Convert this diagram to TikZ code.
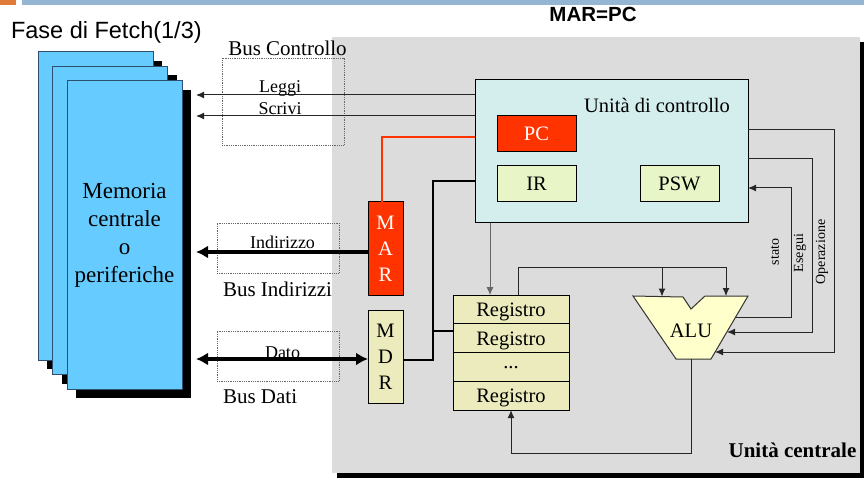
\documentclass[tikz,border=0pt]{standalone}
\usepackage{fontspec}
\setmainfont{Liberation Serif}
\newfontfamily\arialfont{Liberation Sans}
\usetikzlibrary{arrows.meta,positioning}

\definecolor{topbar}{HTML}{94B6D2}
\definecolor{toporange}{HTML}{E07B39}
\definecolor{cpugray}{HTML}{DCDCDC}
\definecolor{memblue}{HTML}{66CCFF}
\definecolor{memline}{HTML}{2F4F6F}
\definecolor{cufill}{HTML}{D4EDED}
\definecolor{pcred}{HTML}{FF3300}
\definecolor{irfill}{HTML}{E8F5C6}
\definecolor{regfill}{HTML}{EBEBBD}
\definecolor{alufill}{HTML}{FFFFCC}

\begin{document}
\begin{tikzpicture}[x=1pt,y=-1pt,line width=1pt,
    every node/.style={inner sep=0pt,outer sep=0pt},
    lbl/.style={font=\fontsize{20.5}{24}\selectfont},
    sigtext/.style={font=\fontsize{18}{20}\selectfont,anchor=base},
    rottext/.style={font=\fontsize{14}{16}\selectfont,rotate=90},
    membox/.style={draw=memline,fill=memblue,minimum width=115pt,minimum height=308pt},
    busbox/.style={draw=black!60,densely dotted,line width=0.8pt},
    unit/.style={draw,lbl,text depth=0pt,minimum width=79pt,minimum height=36pt},
    regbox/.style={draw,fill=regfill,minimum width=35pt,minimum height=93pt,
        align=center,font=\fontsize{20.5}{26}\selectfont},
    reg/.style={draw,fill=regfill,lbl,text depth=0pt,minimum width=116pt,minimum height=28.75pt},
    sig/.style={draw=black!85,-{Latex[length=8pt,width=7pt]}},
    bus/.style={line width=4pt,-{Latex[length=12pt,width=13pt]}},
    busboth/.style={line width=4pt,{Latex[length=12pt,width=13pt]}-{Latex[length=12pt,width=13pt]}}]
  \useasboundingbox (0,0) rectangle (864,478);

  % title bar
  \fill[toporange] (0,0) rectangle (16,5);
  \fill[topbar] (22,0) rectangle (864,5);
  \node[anchor=base west,font=\arialfont\fontsize{23.5}{27}\selectfont] (title) at (11,39) {Fase di Fetch(1/3)};
  \node[anchor=base,font=\arialfont\bfseries\fontsize{20.5}{24}\selectfont] (step1) at (593,22) {MAR=PC};

  % unita' centrale
  \fill (337,42) rectangle (864,478);
  \node[fill=cpugray,minimum width=528pt,minimum height=436pt] (cpu) at (596,255) {};
  \node[lbl,font=\bfseries\fontsize{21}{24}\selectfont,anchor=base] (cpulbl) at (792.5,457) {Unità centrale};

  % memoria
  \foreach \d in {0,14.5} {
    \fill (47+\d,61+\d) rectangle (162+\d,369+\d);
    \node[membox] at (95.5+\d,206+\d) {};
  }
  \fill (76,90) rectangle (191,398);
  \node[membox,align=center,font=\fontsize{23}{28}\selectfont] (mem) at (124.5,235) {Memoria\\centrale\\o\\periferiche};

  % bus
  \node[busbox,minimum width=122pt,minimum height=87pt] (bcbox) at (283,101.5) {};
  \node[busbox,minimum width=122pt,minimum height=50pt] (bibox) at (278,248) {};
  \node[busbox,minimum width=122pt,minimum height=50pt] (bdbox) at (278,356) {};
  \node[lbl,font=\fontsize{21}{24}\selectfont,anchor=base] (bclbl) at (287.5,56) {Bus Controllo};
  \node[lbl,font=\fontsize{21}{24}\selectfont,anchor=base west] (bilbl) at (223,296) {Bus Indirizzi};
  \node[lbl,font=\fontsize{21}{24}\selectfont,anchor=base west] (bdlbl) at (223,403) {Bus Dati};

  % unita' di controllo
  \node[draw,fill=cufill,minimum width=273pt,minimum height=143pt] (cu) at (611.5,151.5) {};
  \node[lbl,anchor=base] (culbl) at (657,113) {Unità di controllo};
  \node[unit,fill=pcred,text=white] (pc) at (536.5,134) {PC};
  \node[unit,fill=irfill] (ir) at (536.5,184) {IR};
  \node[unit,fill=irfill] (psw) at (679.5,184) {PSW};

  % MAR e MDR
  \node[regbox,fill=pcred,text=white] (mar) at (385.5,248.5) {M\\A\\R};
  \node[regbox] (mdr) at (385.5,356.5) {M\\D\\R};

  % registri
  \node[reg] (r1) at (511,309.5) {Registro};
  \node[reg,below=0pt of r1] (r2) {Registro};
  \node[reg,below=0pt of r2] (r3) {...};
  \node[reg,below=0pt of r3] (r4) {Registro};

  % ALU
  \coordinate (alu-tl) at (633,296);
  \coordinate (alu-tr) at (748,296);
  \coordinate (alu-br) at (711,359);
  \coordinate (alu-bl) at (676,359);
  \filldraw[fill=alufill,draw=black!80] (alu-tl) -- (683,297) -- (691,309) -- (705,296)
      -- (alu-tr) -- (alu-br) -- (alu-bl) -- cycle;
  \node[lbl] (alu) at (691,331) {ALU};
  \coordinate (alu-a) at (662,296.5);
  \coordinate (alu-b) at (726,296);
  \coordinate (alu-st) at (736,317);
  \coordinate (alu-ex) at (727,332);
  \coordinate (alu-op) at (715,352);
  \coordinate (alu-out) at (691,359);

  % bus controllo
  \coordinate (rdin) at (196,95);
  \coordinate (wrin) at (196,116);
  \draw[sig] (cu.west |- rdin) -- (rdin);
  \draw[sig] (cu.west |- wrin) -- (wrin);
  \node[sigtext] (rd) at (280,93) {Leggi};
  \node[sigtext] (wr) at (280,115) {Scrivi};

  % bus indirizzi e bus dati
  \draw[pcred,line width=1.2pt] ([yshift=-3pt]cu.west |- pc) -| ([xshift=-3.5pt]mar.north);
  \coordinate (adin) at (196,252);
  \coordinate (dtin) at (196,359);
  \draw[bus] (mar.west |- adin) -- (adin);
  \draw[busboth] (dtin) -- (mdr.west |- dtin);
  \node[sigtext] (ad) at (282.5,248) {Indirizzo};
  \node[sigtext] (dt) at (282.5,358) {Dato};

  % bus interno
  \coordinate (jn) at (433,331);
  \draw[line width=2pt] ([yshift=3pt]cu.west |- ir) -| (jn) |- ([yshift=-3.5pt]mdr.east);
  \draw[line width=2pt] (jn) -- (jn -| r1.west);
  \draw[sig,draw=black!60] ([xshift=15pt]cu.south west) -- ([xshift=15pt]cu.south west |- r1.north);

  % registri -> ALU -> registri
  \coordinate (rga) at (518,267);
  \draw[sig] (rga |- r1.north) -- (rga) -| (alu-b);
  \draw[sig] (alu-a |- rga) -- (alu-a);
  \coordinate (ret) at (691,453);
  \draw[sig] (alu-out) -- (ret) -| (r4.south);

  % segnali di controllo
  \coordinate (op) at (834,130);
  \coordinate (ex) at (812,159);
  \coordinate (st) at (791,188);
  \draw[sig] (cu.east |- op) -- (op) |- (alu-op);
  \draw[sig] (cu.east |- ex) -- (ex) |- (alu-ex);
  \draw[sig] (alu-st) -| (st) -- (cu.east |- st);
  \node[rottext] (stlbl) at (775,252) {stato};
  \node[rottext] (exlbl) at (800,253) {Esegui};
  \node[rottext] (oplbl) at (822,252) {Operazione};
\end{tikzpicture}
\end{document}
